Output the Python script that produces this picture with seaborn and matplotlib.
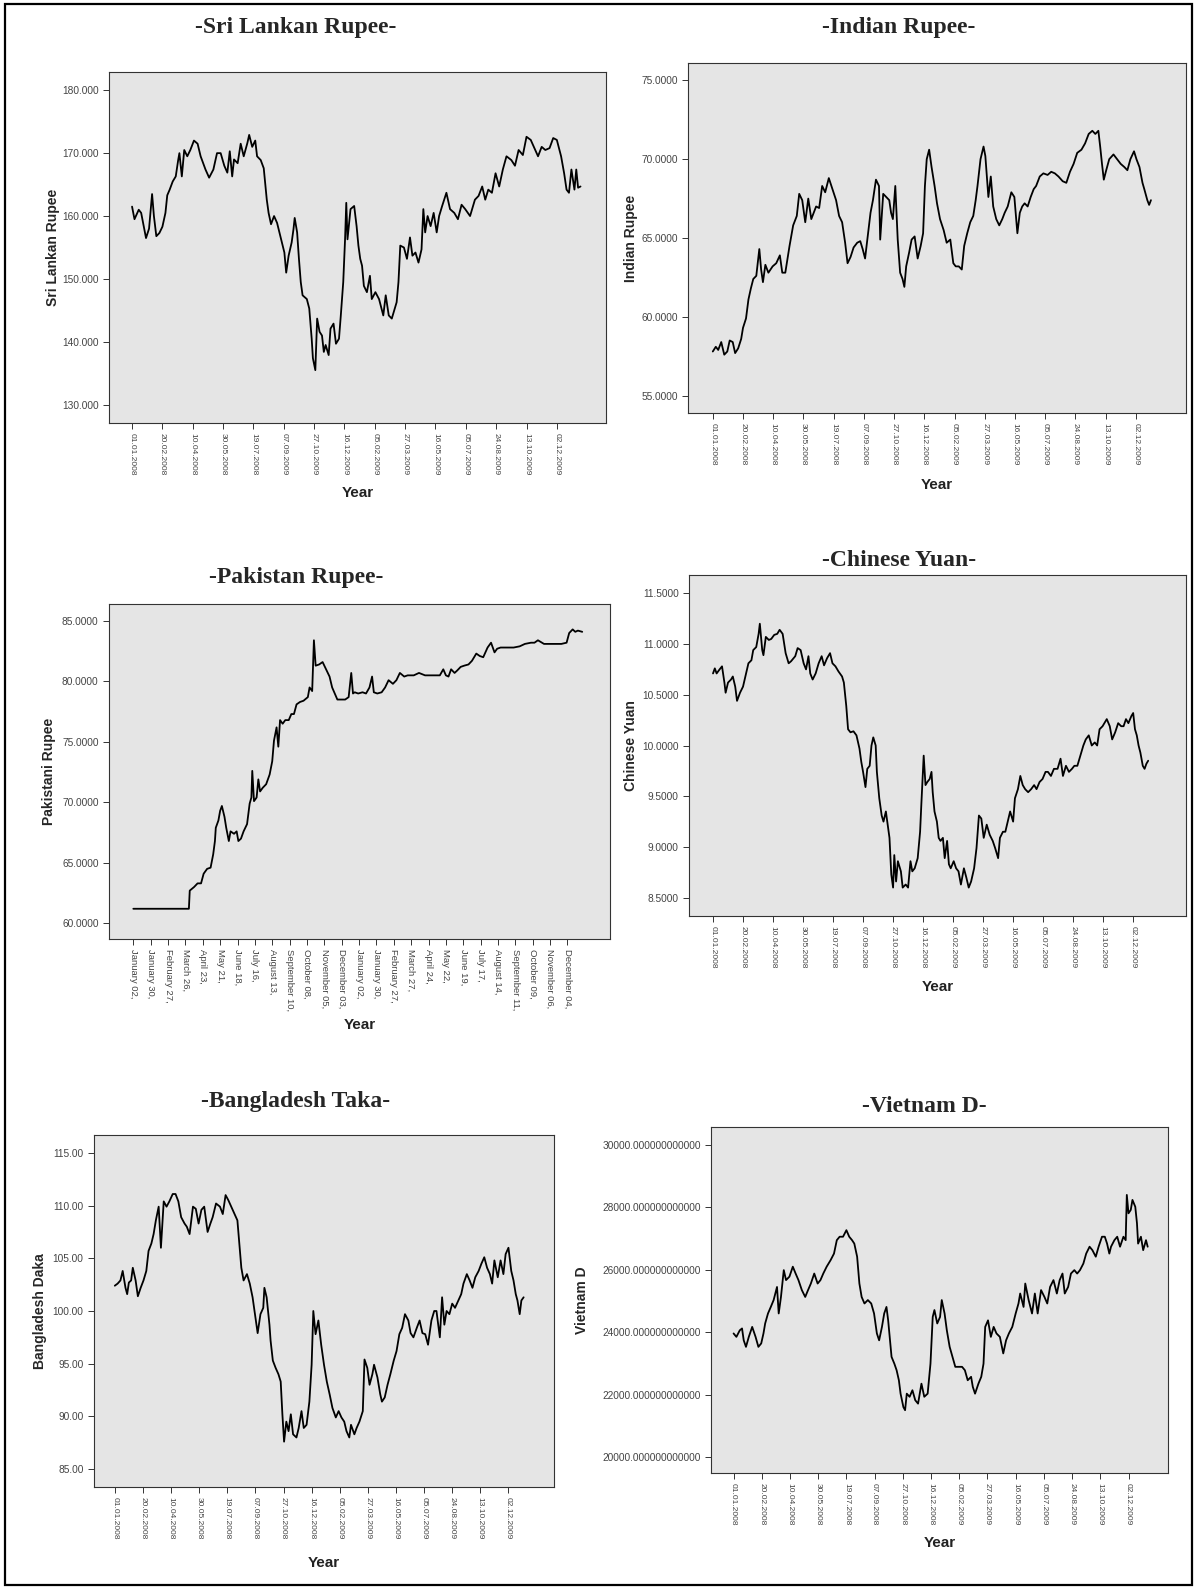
import numpy as np
import pandas as pd
import seaborn as sns
import matplotlib
matplotlib.use("Agg")
import matplotlib.pyplot as plt
from matplotlib.patches import Rectangle

# ---- data ----
# x = days since 01.01.2008 (Pakistan: trading days since January 02)
date_labels = ['01.01.2008', '20.02.2008', '10.04.2008', '30.05.2008', '19.07.2008',
               '07.09.2008', '27.10.2008', '16.12.2008', '05.02.2009', '27.03.2009',
               '16.05.2009', '05.07.2009', '24.08.2009', '13.10.2009', '02.12.2009']
sl_labels = ['01.01.2008', '20.02.2008', '10.04.2008', '30.05.2008', '19.07.2008',
             '07.09.2009', '27.10.2009', '16.12.2009', '05.02.2009', '27.03.2009',
             '16.05.2009', '05.07.2009', '24.08.2009', '13.10.2009', '02.12.2009']
pk_labels = ['January 02,', 'January 30,', 'February 27,', 'March 26,', 'April 23,',
             'May 21,', 'June 18,', 'July 16,', 'August 13,', 'September 10,',
             'October 08,', 'November 05,', 'December 03,', 'January 02,', 'January 30,',
             'February 27,', 'March 27,', 'April 24,', 'May 22,', 'June 19,', 'July 17,',
             'August 14,', 'September 11,', 'October 09,', 'November 06,', 'December 04,']

sl_day = [0, 4, 11, 15, 20, 23, 28, 33, 36, 40, 45, 50, 55, 58, 62, 67, 72, 76, 78, 82,
          86, 91, 96, 102, 108, 113, 121, 127, 134, 140, 146, 152, 157, 161, 165, 168, 174, 179, 184, 190,
          193, 198, 203, 206, 212, 217, 222, 225, 229, 234, 239, 247, 251, 254, 258, 263, 266, 268, 272, 275,
          278, 281, 288, 292, 296, 298, 302, 305, 309, 313, 316, 319, 324, 327, 332, 336, 341, 344, 348, 351,
          353, 355, 360, 366, 370, 373, 376, 379, 382, 387, 392, 395, 401, 407, 414, 418, 423, 428, 436, 439,
          442, 448, 453, 458, 462, 467, 472, 477, 480, 483, 487, 492, 497, 502, 506, 511, 518, 524, 531, 537,
          543, 549, 557, 565, 571, 577, 582, 587, 593, 599, 605, 611, 617, 625, 631, 637, 644, 650, 657, 662,
          669, 675, 681, 688, 694, 700, 707, 712, 716, 720, 724, 729, 732, 735, 739]
sl_val = [161.5, 159.5, 161, 160.5, 158, 156.5, 158, 163.5, 160, 156.8, 157.3, 158.3, 160.5, 163.3, 164.2, 165.5, 166.3, 168.9, 170, 166.3,
          170.5, 169.5, 170.5, 172, 171.5, 169.5, 167.4, 166.1, 167.4, 170, 170, 168, 166.9, 170.3, 166.3, 169, 168.4, 171.5, 169.5, 171.6,
          172.9, 171, 172, 169.5, 168.9, 167.6, 162.6, 160.5, 158.7, 160, 158.9, 155.8, 154.2, 151, 153.7, 155.8, 157.9, 159.7, 157.4, 153.2,
          149.5, 147.4, 146.8, 145.3, 140.5, 137.4, 135.5, 143.7, 141.6, 141, 138.4, 139.5, 137.9, 142.1, 142.9, 139.7, 140.5, 144.2, 149.5, 156.3,
          162.1, 156.3, 161.1, 161.6, 158.4, 155.3, 153.2, 152.1, 148.9, 147.9, 150.5, 146.8, 147.9, 146.8, 144.2, 147.4, 144.2, 143.7, 146.3, 149.5,
          155.3, 155, 153.2, 156.6, 153.7, 154.2, 152.6, 154.7, 161.1, 157.4, 160, 158.4, 160.5, 157.4, 160, 161.6, 163.7, 161.1, 160.5, 159.5,
          161.8, 161.1, 160, 162.6, 163.2, 164.7, 162.6, 164.2, 163.7, 166.8, 164.7, 167.4, 169.5, 168.9, 168, 170.5, 169.7, 172.6, 172.1, 171,
          169.5, 171, 170.5, 170.8, 172.4, 172.1, 169.5, 166.8, 164.2, 163.7, 167.4, 164.2, 167.4, 164.5, 164.7]

in_day = [0, 5, 9, 14, 19, 24, 28, 33, 37, 42, 47, 50, 55, 59, 63, 67, 72, 77, 80, 83,
          87, 92, 99, 105, 111, 115, 120, 127, 133, 139, 143, 148, 153, 158, 163, 167, 171, 176, 181, 186,
          192, 198, 204, 209, 214, 219, 223, 228, 233, 239, 244, 248, 252, 257, 261, 265, 270, 275, 277, 282,
          287, 292, 295, 298, 302, 306, 310, 314, 317, 320, 325, 329, 334, 339, 344, 348, 351, 354, 358, 362,
          367, 371, 376, 382, 387, 393, 398, 402, 407, 412, 416, 421, 426, 431, 435, 438, 443, 448, 451, 456,
          460, 464, 469, 474, 479, 483, 488, 494, 499, 504, 508, 512, 516, 521, 526, 531, 535, 541, 547, 554,
          560, 566, 572, 579, 585, 591, 597, 603, 610, 616, 622, 628, 633, 638, 641, 644, 647, 651, 656, 663,
          669, 675, 681, 686, 691, 697, 701, 706, 711, 714, 719, 722, 725]
in_val = [57.8, 58.1, 57.9, 58.4, 57.6, 57.8, 58.5, 58.4, 57.7, 58.0, 58.6, 59.3, 59.9, 61.1, 61.8, 62.4, 62.6, 64.3, 63.0, 62.2,
          63.3, 62.8, 63.2, 63.4, 63.9, 62.8, 62.8, 64.5, 65.8, 66.4, 67.8, 67.4, 66.0, 67.5, 66.2, 66.6, 67.0, 66.9, 68.3, 67.9,
          68.8, 68.1, 67.4, 66.4, 66.0, 64.7, 63.4, 63.8, 64.4, 64.7, 64.8, 64.3, 63.7, 65.3, 66.6, 67.4, 68.7, 68.3, 64.9, 67.8,
          67.6, 67.4, 66.6, 66.2, 68.3, 64.9, 62.8, 62.4, 61.9, 63.2, 64.1, 64.9, 65.1, 63.7, 64.5, 65.3, 68.3, 70.0, 70.6, 69.5,
          68.3, 67.2, 66.2, 65.5, 64.7, 64.9, 63.4, 63.2, 63.2, 63.0, 64.5, 65.3, 66.0, 66.4, 67.4, 68.3, 70.0, 70.8, 70.2, 67.6,
          68.9, 67.0, 66.2, 65.8, 66.2, 66.6, 67.0, 67.9, 67.6, 65.3, 66.6, 67.0, 67.2, 67.0, 67.6, 68.1, 68.3, 68.9, 69.1, 69.0,
          69.2, 69.1, 68.9, 68.6, 68.5, 69.2, 69.7, 70.4, 70.6, 71.0, 71.6, 71.8, 71.6, 71.8, 70.8, 69.7, 68.7, 69.3, 70.0, 70.3,
          70.0, 69.7, 69.5, 69.3, 70.0, 70.5, 70.0, 69.5, 68.5, 68.1, 67.4, 67.1, 67.4]

pk_day = [0, 64, 65, 70, 74, 78, 81, 85, 89, 92, 94, 95, 98, 100, 102, 105, 107, 110, 112, 116,
          119, 121, 124, 127, 131, 134, 136, 137, 139, 142, 144, 146, 149, 153, 157, 160, 162, 165, 167, 169,
          172, 175, 179, 182, 185, 188, 192, 196, 201, 203, 206, 208, 210, 214, 218, 222, 226, 229, 232, 235,
          240, 244, 248, 251, 253, 255, 259, 264, 268, 272, 275, 277, 281, 286, 290, 294, 299, 303, 307, 312,
          316, 323, 329, 336, 342, 349, 353, 357, 360, 363, 366, 370, 373, 377, 381, 386, 390, 395, 399, 403,
          408, 412, 414, 416, 419, 423, 427, 432, 438, 445, 451, 458, 462, 466, 473, 480, 486, 493, 499, 502,
          506, 509, 512, 517]
pk_val = [61.2, 61.2, 62.7, 63.0, 63.3, 63.3, 64.1, 64.5, 64.6, 65.7, 66.8, 67.9, 68.5, 69.3, 69.7, 68.8, 67.9, 66.8, 67.6, 67.4,
          67.6, 66.8, 67.0, 67.6, 68.2, 69.9, 70.4, 72.6, 70.1, 70.4, 71.9, 70.9, 71.2, 71.5, 72.3, 73.4, 75.1, 76.2, 74.6, 76.8,
          76.5, 76.8, 76.8, 77.3, 77.3, 78.1, 78.3, 78.4, 78.7, 79.5, 79.2, 83.4, 81.3, 81.4, 81.6, 81.0, 80.4, 79.5, 79.0, 78.5,
          78.5, 78.5, 78.7, 80.7, 79.0, 79.1, 79.0, 79.1, 79.0, 79.5, 80.4, 79.1, 79.0, 79.1, 79.5, 80.1, 79.8, 80.1, 80.7, 80.4,
          80.5, 80.5, 80.7, 80.5, 80.5, 80.5, 80.5, 81.0, 80.5, 80.4, 81.0, 80.7, 80.9, 81.2, 81.3, 81.4, 81.7, 82.3, 82.1, 82.0,
          82.8, 83.2, 82.8, 82.4, 82.7, 82.8, 82.8, 82.8, 82.8, 82.9, 83.1, 83.2, 83.2, 83.4, 83.1, 83.1, 83.1, 83.1, 83.2, 84.0,
          84.3, 84.1, 84.2, 84.1]

cn_day = [0, 3, 6, 11, 15, 19, 21, 25, 30, 33, 37, 40, 45, 50, 55, 59, 64, 67, 72, 76,
          78, 82, 84, 88, 93, 97, 102, 107, 111, 116, 121, 126, 130, 137, 141, 146, 151, 155, 159, 162,
          166, 171, 176, 181, 185, 190, 195, 199, 204, 209, 215, 218, 222, 225, 229, 234, 239, 244, 247, 250,
          254, 257, 261, 264, 267, 271, 273, 277, 281, 284, 288, 291, 294, 297, 300, 302, 305, 308, 313, 316,
          321, 325, 329, 332, 336, 341, 345, 347, 351, 354, 357, 361, 364, 366, 369, 373, 376, 379, 383, 386,
          390, 393, 396, 401, 405, 409, 413, 418, 422, 426, 430, 435, 439, 443, 447, 451, 456, 461, 466, 470,
          475, 478, 483, 487, 491, 495, 500, 503, 508, 512, 516, 520, 525, 530, 535, 539, 544, 549, 554, 558,
          563, 568, 574, 579, 583, 588, 593, 598, 602, 607, 612, 617, 621, 626, 631, 636, 640, 644, 649, 656,
          661, 665, 670, 675, 680, 684, 688, 692, 697, 700, 703, 706, 709, 712, 716, 719, 722, 725]
cn_val = [10.71, 10.76, 10.71, 10.75, 10.78, 10.62, 10.52, 10.62, 10.65, 10.68, 10.58, 10.44, 10.52, 10.58, 10.71, 10.81, 10.84, 10.94, 10.97, 11.10,
          11.20, 10.94, 10.89, 11.07, 11.04, 11.05, 11.09, 11.10, 11.14, 11.10, 10.91, 10.81, 10.83, 10.88, 10.96, 10.94, 10.81, 10.75, 10.88, 10.71,
          10.65, 10.71, 10.81, 10.88, 10.79, 10.86, 10.91, 10.81, 10.78, 10.73, 10.68, 10.62, 10.39, 10.16, 10.13, 10.14, 10.10, 9.97, 9.84, 9.74,
          9.59, 9.77, 9.80, 10.00, 10.08, 10.00, 9.74, 9.48, 9.31, 9.25, 9.35, 9.22, 9.09, 8.73, 8.60, 8.92, 8.66, 8.86, 8.76, 8.60,
          8.63, 8.60, 8.86, 8.76, 8.79, 8.89, 9.15, 9.41, 9.90, 9.61, 9.64, 9.67, 9.74, 9.54, 9.35, 9.25, 9.09, 9.06, 9.09, 8.89,
          9.06, 8.83, 8.79, 8.86, 8.79, 8.76, 8.63, 8.79, 8.70, 8.60, 8.66, 8.79, 8.99, 9.31, 9.28, 9.09, 9.22, 9.12, 9.06, 8.99,
          8.89, 9.09, 9.15, 9.15, 9.25, 9.35, 9.25, 9.48, 9.57, 9.70, 9.61, 9.57, 9.54, 9.57, 9.61, 9.57, 9.64, 9.67, 9.74, 9.74,
          9.70, 9.77, 9.77, 9.87, 9.70, 9.80, 9.74, 9.77, 9.80, 9.80, 9.90, 10.00, 10.06, 10.10, 10.00, 10.03, 10.00, 10.16, 10.19, 10.26,
          10.19, 10.06, 10.13, 10.22, 10.19, 10.19, 10.26, 10.22, 10.29, 10.32, 10.16, 10.10, 10.00, 9.93, 9.80, 9.77, 9.82, 9.85]

bd_day = [0, 5, 10, 14, 19, 22, 25, 29, 32, 37, 41, 46, 51, 56, 60, 65, 69, 73, 78, 82,
          87, 92, 97, 103, 108, 113, 118, 124, 128, 133, 139, 144, 149, 154, 159, 165, 170, 174, 180, 187,
          192, 197, 202, 207, 213, 218, 221, 225, 229, 235, 240, 245, 250, 254, 259, 264, 266, 270, 275, 277,
          281, 286, 291, 295, 298, 301, 305, 309, 313, 317, 323, 327, 332, 336, 341, 346, 350, 353, 357, 362,
          367, 372, 377, 382, 387, 393, 398, 403, 408, 412, 417, 420, 426, 430, 435, 441, 444, 449, 453, 458,
          461, 467, 472, 475, 480, 485, 490, 496, 501, 506, 511, 516, 522, 526, 531, 537, 542, 547, 552, 557,
          563, 568, 572, 578, 582, 586, 590, 595, 600, 605, 611, 616, 620, 626, 631, 636, 641, 647, 652, 657,
          662, 667, 671, 675, 681, 686, 691, 695, 700, 705, 709, 713, 716, 720, 723, 727]
bd_val = [102.4, 102.6, 102.9, 103.8, 102.2, 101.6, 102.7, 102.9, 104.1, 102.9, 101.4, 102.2, 102.9, 103.8, 105.7, 106.4, 107.3, 108.6, 109.9, 106.0,
          110.4, 109.9, 110.4, 111.1, 111.1, 110.4, 108.9, 108.3, 108.0, 107.3, 109.9, 109.7, 108.3, 109.6, 109.9, 107.5, 108.3, 108.9, 110.2, 109.9,
          109.2, 111.0, 110.5, 109.9, 109.2, 108.6, 106.7, 104.1, 102.9, 103.5, 102.6, 101.3, 99.4, 97.9, 99.7, 100.3, 102.2, 101.3, 98.7, 97.2,
          95.3, 94.6, 94.0, 93.3, 90.2, 87.6, 89.5, 88.6, 90.2, 88.3, 88.0, 88.9, 90.5, 88.9, 89.2, 91.4, 94.9, 100.0, 97.8, 99.1,
          96.8, 94.9, 93.3, 92.1, 90.8, 89.9, 90.5, 89.9, 89.5, 88.6, 88.0, 89.2, 88.3, 88.9, 89.5, 90.5, 95.4, 94.6, 93.0, 94.0,
          94.9, 93.7, 92.1, 91.4, 91.8, 93.0, 94.0, 95.3, 96.2, 97.8, 98.4, 99.7, 99.1, 97.9, 97.5, 98.4, 99.1, 97.9, 97.8, 96.8,
          99.1, 100.0, 100.0, 97.5, 101.3, 98.7, 100.0, 99.7, 100.7, 100.3, 101.0, 101.6, 102.6, 103.5, 102.9, 102.2, 103.2, 103.8, 104.5, 105.1,
          104.1, 103.5, 102.6, 104.8, 103.2, 104.8, 103.5, 105.4, 106.0, 103.8, 102.9, 101.6, 101.0, 99.7, 101.0, 101.3]

vn_day = [0, 5, 11, 15, 18, 22, 27, 33, 39, 44, 49, 53, 56, 61, 66, 71, 77, 80, 84, 89,
          93, 99, 105, 110, 115, 121, 127, 132, 137, 143, 149, 154, 159, 165, 172, 178, 183, 188, 194, 200,
          205, 210, 214, 219, 223, 227, 232, 238, 244, 249, 254, 258, 263, 267, 271, 274, 280, 285, 289, 293,
          296, 301, 304, 307, 312, 317, 322, 327, 333, 338, 344, 349, 353, 356, 361, 366, 369, 374, 378, 383,
          388, 393, 399, 405, 410, 415, 421, 424, 428, 434, 439, 443, 446, 451, 456, 461, 466, 472, 478, 483,
          488, 494, 500, 505, 508, 514, 517, 523, 529, 534, 539, 545, 551, 556, 561, 567, 573, 578, 583, 587,
          593, 598, 604, 609, 614, 620, 625, 631, 636, 642, 647, 653, 658, 662, 666, 669, 675, 680, 685, 691,
          695, 697, 700, 704, 707, 712, 715, 717, 722, 726, 731, 734]
vn_val = [23960, 23850, 24060, 24120, 23740, 23530, 23850, 24170, 23850, 23530, 23640, 23960, 24280, 24600, 24810, 25030, 25450, 24600, 25130, 25990,
          25670, 25780, 26100, 25880, 25670, 25350, 25130, 25350, 25560, 25880, 25560, 25670, 25880, 26100, 26310, 26520, 26950, 27060, 27060, 27270,
          27060, 26950, 26840, 26420, 25560, 25130, 24920, 25030, 24920, 24600, 23960, 23740, 24170, 24600, 24810, 24380, 23210, 22990, 22780, 22460,
          22030, 21600, 21500, 22030, 21930, 22140, 21820, 21710, 22350, 21930, 22030, 22990, 24490, 24710, 24280, 24490, 25030, 24600, 24060, 23530,
          23210, 22890, 22890, 22890, 22780, 22460, 22570, 22250, 22030, 22350, 22570, 22990, 24170, 24380, 23850, 24170, 23960, 23850, 23320, 23740,
          23960, 24170, 24600, 24920, 25240, 24810, 25560, 25030, 24600, 25240, 24600, 25350, 25130, 24920, 25450, 25670, 25240, 25670, 25880, 25240,
          25450, 25880, 25990, 25880, 25990, 26200, 26520, 26740, 26630, 26420, 26740, 27060, 27060, 26840, 26520, 26740, 26950, 27060, 26740, 27060,
          26950, 28400, 27810, 27920, 28240, 28020, 27490, 26840, 27060, 26630, 26950, 26740]

# ---- layout in pixels of the 1196 x 1589 page ----
W, H = 1196, 1589

sns.set_style("ticks")
plt.rcParams['font.family'] = ['Liberation Sans', 'DejaVu Sans']

fig = plt.figure(figsize=(W / 100, H / 100), dpi=100)
fig.patch.set_facecolor('white')


def panel(box, title, title_xy, xs, ys, ylabel, ylabel_x, ylim, yticks, yfmt,
          xticks, xlabels, xlim, year_y, xsize=6.0):
    L, T, R, B = box
    ax = fig.add_axes([L / W, 1 - B / H, (R - L) / W, (B - T) / H])
    df = pd.DataFrame({'x': xs, 'y': ys})
    sns.lineplot(data=df, x='x', y='y', ax=ax, color='black', linewidth=1.3)
    ax.set_facecolor('#e5e5e5')
    ax.set_xlim(*xlim)
    ax.set_ylim(*ylim)
    ax.set_yticks(yticks, labels=[yfmt.format(v) for v in yticks])
    ax.set_xticks(xticks, labels=xlabels, rotation=-90)
    ax.tick_params(axis='both', length=4, width=0.7, colors='#333333', labelcolor='#444444')
    ax.tick_params(axis='y', labelsize=7.3)
    ax.tick_params(axis='x', labelsize=xsize)
    for s in ax.spines.values():
        s.set_linewidth(0.8)
        s.set_color('#333333')
    ax.set_xlabel('')
    ax.set_ylabel(ylabel, fontsize=10, fontweight='bold')
    # centre of the rotated label sits about 6 px left of its anchor
    ax.yaxis.set_label_coords((ylabel_x + 6 - L) / (R - L), 0.5)
    fig.text(title_xy[0] / W, 1 - title_xy[1] / H, title, ha='center', va='center',
             fontsize=17, fontweight='bold', family='Liberation Serif')
    fig.text((L + R) / 2 / W, 1 - year_y / H, 'Year', ha='center', va='center',
             fontsize=11, fontweight='bold', color='#222222')
    return ax


day_ticks = list(range(0, 701, 50))
pk_ticks = list(range(0, 501, 20))

panel((109, 72, 606, 423), '-Sri Lankan Rupee-', (296, 27), sl_day, sl_val, 'Sri Lankan Rupee', 54,
      (127.1, 182.9), [130, 140, 150, 160, 170, 180], '{:.3f}', day_ticks, sl_labels, (-38, 781), 493)
panel((688, 63, 1186, 413), '-Indian Rupee-', (899, 28), in_day, in_val, 'Indian Rupee', 632,
      (53.9, 76.1), [55, 60, 65, 70, 75], '{:.4f}', day_ticks, date_labels, (-41, 783), 485)
panel((109, 604, 610, 939), '-Pakistan Rupee-', (296, 578), pk_day, pk_val, 'Pakistani Rupee', 50,
      (58.7, 86.4), [60, 65, 70, 75, 80, 85], '{:.4f}', pk_ticks, pk_labels, (-28, 549), 1025, xsize=6.8)
panel((689, 575, 1186, 916), '-Chinese Yuan-', (899, 561), cn_day, cn_val, 'Chinese Yuan', 632,
      (8.32, 11.68), [8.5, 9.0, 9.5, 10.0, 10.5, 11.0, 11.5], '{:.4f}', day_ticks, date_labels, (-40, 788), 987)
panel((94, 1135, 554, 1487), '-Bangladesh Taka-', (296, 1101), bd_day, bd_val, 'Bangladesh Daka', 41,
      (83.3, 116.7), [85, 90, 95, 100, 105, 110, 115], '{:.2f}', day_ticks, date_labels, (-37, 781), 1563)
panel((711, 1127, 1168, 1473), '-Vietnam D-', (924, 1106), vn_day, vn_val, 'Vietnam D', 583,
      (19487, 30577), [20000, 22000, 24000, 26000, 28000, 30000], '{:.12f}', day_ticks, date_labels, (-40, 770), 1543)

# page frame around everything
fig.add_artist(Rectangle((5 / W, 1 - 1585 / H), (1192 - 5) / W, (1585 - 4) / H,
                         transform=fig.transFigure, fill=False, lw=1.6, ec='black'))

fig.savefig('out.png', dpi=100, facecolor='white')
